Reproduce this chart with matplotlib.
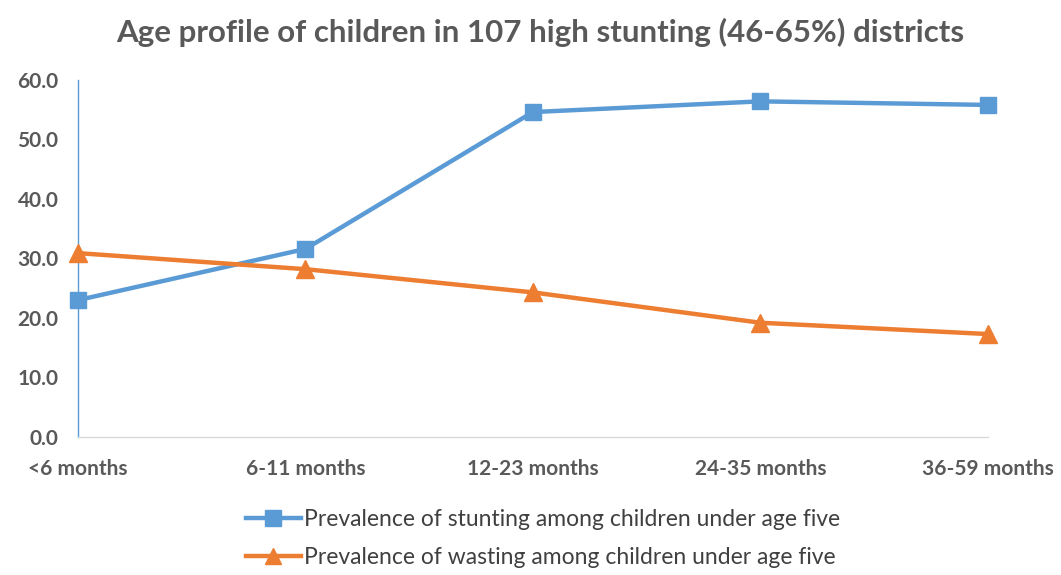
import matplotlib.pyplot as plt
from matplotlib.lines import Line2D

plt.rcParams['font.family'] = ['Lato', 'DejaVu Sans']

# age groups and prevalence (%) in the high-stunting districts
age_groups = ['<6 months', '6-11 months', '12-23 months', '24-35 months', '36-59 months']
stunting = [23.0, 31.6, 54.6, 56.4, 55.8]
wasting = [30.9, 28.2, 24.3, 19.2, 17.3]
y_ticks = [0, 10, 20, 30, 40, 50, 60]

BLUE = '#5B9BD5'
ORANGE = '#ED7D31'
GREY = '#595959'

fig = plt.figure(figsize=(10.61, 5.75), dpi=100)
ax = fig.add_axes([0.0735, 0.24, 0.8575, 0.621])

x = list(range(len(age_groups)))
ax.plot(x, stunting, color=BLUE, lw=3.2, marker='s', ms=12, clip_on=False, zorder=3)
ax.plot(x, wasting, color=ORANGE, lw=3.2, marker='^', ms=13, clip_on=False, zorder=3)

ax.set_xlim(0, len(age_groups) - 1)
ax.set_ylim(0, 60)
ax.set_yticks(y_ticks)
ax.set_yticklabels([f'{v:.1f}' for v in y_ticks])
ax.set_xticks(x)
ax.set_xticklabels(age_groups)

for s in ['top', 'right']:
    ax.spines[s].set_visible(False)
ax.spines['left'].set_color(BLUE)
ax.spines['left'].set_linewidth(1.0)
ax.spines['bottom'].set_color('#D9D9D9')
ax.spines['bottom'].set_linewidth(1.0)

ax.tick_params(axis='both', length=0, labelsize=15, colors=GREY)
ax.tick_params(axis='y', pad=14)
ax.tick_params(axis='x', pad=16)
for lab in ax.get_xticklabels() + ax.get_yticklabels():
    lab.set_fontweight('bold')

fig.suptitle('Age profile of children in 107 high stunting (46-65%) districts',
             x=0.509, y=0.968, fontsize=22.5, fontweight='bold', color=GREY)

handles = [
    Line2D([], [], color=BLUE, lw=3.2, marker='s', ms=11),
    Line2D([], [], color=ORANGE, lw=3.2, marker='^', ms=12),
]
labels = ['Prevalence of stunting among children under age five',
          'Prevalence of wasting among children under age five']
fig.legend(handles, labels, loc='center', bbox_to_anchor=(0.512, 0.064), ncol=1,
           frameon=False, fontsize=16.5, handlelength=2.4, labelspacing=0.75,
           handletextpad=0.15, labelcolor='#404040')

fig.savefig('out.png', dpi=100)
